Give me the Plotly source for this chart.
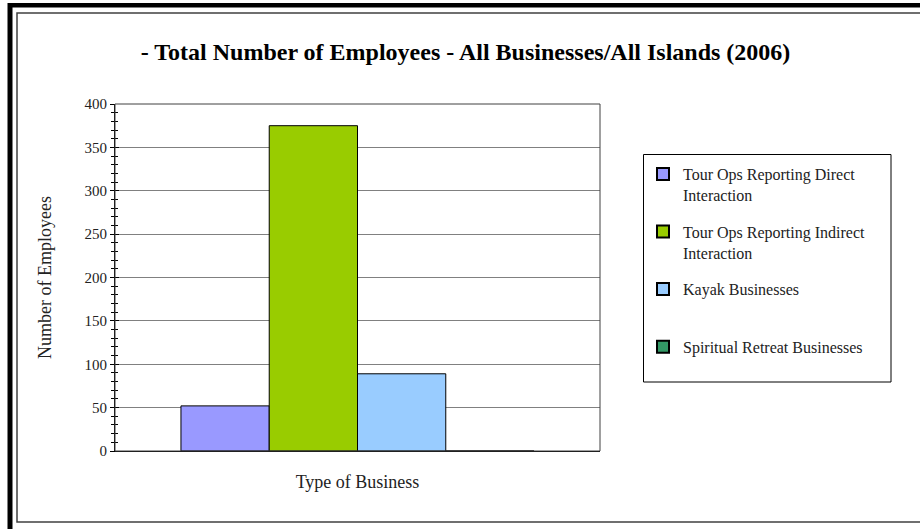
import plotly.graph_objects as go

categories = ["Type of Business"]
series_names = [
    "Tour Ops Reporting Direct<br>Interaction",
    "Tour Ops Reporting Indirect<br>Interaction",
    "Kayak Businesses<br> ",
    "Spiritual Retreat Businesses",
]
series_values = [52, 375, 89, 0]
series_colors = ["#9999FF", "#99CC00", "#99CCFF", "#339966"]
y_ticks = [0, 50, 100, 150, 200, 250, 300, 350, 400]

FONT = "Liberation Serif"

# plot area in pixels
L, R, T, B = 115, 600, 104, 451
W, H = 920, 529

def px_x(p):
    return (p - L) / (R - L)

def px_y(p):
    return (B - p) / (B - T)

fig = go.Figure()
for i, (name, val, col) in enumerate(zip(series_names, series_values, series_colors)):
    fig.add_trace(go.Bar(
        x=categories, y=[val], name=name,
        marker=dict(color=col, line=dict(color="black", width=1)),
        legendgroup=f"g{i}",
    ))

# invisible trace for overlay axis (crossing ticks)
fig.add_trace(go.Scatter(x=categories, y=[0], yaxis="y2", mode="markers",
                         marker=dict(opacity=0), showlegend=False, hoverinfo="skip"))

fig.update_layout(
    width=W, height=529,
    margin=dict(l=L, r=W - R, t=T, b=H - B),
    paper_bgcolor="white", plot_bgcolor="white",
    font=dict(family=FONT, color="black", size=14),
    barmode="group", bargap=0.272, bargroupgap=0,
    title=dict(text="<b>- Total Number of Employees - All Businesses/All Islands (2006)</b>",
               x=0.506, xanchor="center", y=1 - 52 / H, yanchor="middle",
               font=dict(family=FONT, size=24, color="black")),
    xaxis=dict(range=[-0.5, 0.5], showticklabels=False, ticks="",
               showline=True, linecolor="black", linewidth=1,
               title=dict(text="Type of Business", standoff=24,
                          font=dict(family=FONT, size=18, color="#222"))),
    yaxis=dict(range=[0, 400], tickvals=y_ticks, ticks="outside", ticklen=4,
               tickcolor="black", showline=True, linecolor="black", linewidth=1,
               showgrid=True, gridcolor="#808080", gridwidth=1,
               minor=dict(dtick=10, ticks="outside", ticklen=3, tickcolor="black", showgrid=False),
               tickfont=dict(family=FONT, size=15, color="#222"), zeroline=False,
               title=dict(text="Number of Employees", standoff=28,
                          font=dict(family=FONT, size=18, color="#222"))),
    yaxis2=dict(range=[0, 400], overlaying="y", side="left", tickvals=y_ticks,
                ticks="inside", ticklen=4, tickcolor="black", showticklabels=False,
                showgrid=False, zeroline=False,
                minor=dict(dtick=10, ticks="inside", ticklen=3, tickcolor="black")),
    showlegend=True,
    legend=dict(x=px_x(643), y=px_y(157), xanchor="left", yanchor="top",
                bgcolor="rgba(0,0,0,0)", borderwidth=0, valign="top",
                tracegroupgap=13, font=dict(family=FONT, size=16, color="#222"),
                itemsizing="constant", itemwidth=30),
)

shapes = [
    # plot area frame (top/right)
    dict(type="rect", xref="paper", yref="paper", x0=0, x1=1, y0=0, y1=1,
         line=dict(color="#404040", width=1), fillcolor="rgba(0,0,0,0)", layer="above"),
    # legend box
    dict(type="rect", xref="paper", yref="paper", x0=px_x(643.5), x1=px_x(891), y0=px_y(154.5), y1=px_y(382),
         line=dict(color="black", width=1), fillcolor="rgba(0,0,0,0)"),
    # inner thin chart border
    dict(type="rect", xref="paper", yref="paper", x0=px_x(17), x1=px_x(930), y0=px_y(13), y1=px_y(522),
         line=dict(color="#404040", width=1.5), fillcolor="rgba(0,0,0,0)"),
    # thick outer border left
    dict(type="line", xref="paper", yref="paper", x0=px_x(10), x1=px_x(10), y0=px_y(3), y1=px_y(540),
         line=dict(color="black", width=5)),
    # thick outer border top
    dict(type="line", xref="paper", yref="paper", x0=px_x(8), x1=px_x(930), y0=px_y(5.3), y1=px_y(5.3),
         line=dict(color="black", width=4.5)),
]
fig.update_layout(shapes=shapes)

fig.write_html("out.html")
